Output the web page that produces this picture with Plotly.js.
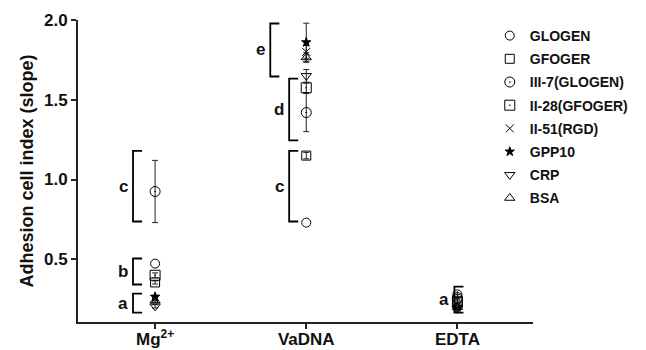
<!DOCTYPE html>
<html>
<head>
<meta charset="utf-8">
<script src="https://cdn.plot.ly/plotly-3.0.1.min.js"></script>
<style>html,body{margin:0;padding:0;background:#fff;}#chart{width:646px;height:350px;}</style>
</head>
<body>
<div id="chart"></div>
<script>
// ---- data ----
const categories = ["Mg<sup>2+</sup>", "VaDNA", "EDTA"];
const seriesNames = ["GLOGEN", "GFOGER", "III-7(GLOGEN)", "II-28(GFOGER)", "II-51(RGD)", "GPP10", "CRP", "BSA"];
const GLOGEN      = [0.473, 0.73, 0.28];
const GFOGER      = [0.355, 1.15, 0.24];
const III7_GLOGEN = [0.925, 1.42, 0.26];
const II28_GFOGER = [0.40, 1.575, 0.23];
const II51_RGD    = [0.25, 1.80, 0.21];
const GPP10       = [0.265, 1.86, 0.20];
const CRP         = [0.205, 1.65, 0.19];
const BSA         = [0.24, 1.765, 0.20];
const errGLOGEN   = [0, 0, 0.02];
const errGFOGER   = [0.01, 0.02, 0.02];
const errIII7     = [0.195, 0.12, 0.02];
const errII28     = [0.015, 0.03, 0.02];
const errII51     = [0.01, 0.04, 0.02];
const errGPP10    = [0.01, 0.12, 0.02];
const errCRP      = [0.01, 0.04, 0.02];
const errBSA      = [0.01, 0.03, 0.02];
// significance brackets: category index, low, high, label
const bracketCat   = [0, 0, 0, 1, 1, 1, 2];
const bracketLow   = [0.166, 0.342, 0.737, 0.737, 1.245, 1.646, 0.166];
const bracketHigh  = [0.285, 0.505, 1.18, 1.18, 1.633, 1.978, 0.329];
const bracketLabel = ["a", "b", "c", "c", "d", "e", "a"];

// ---- styling ----
const values = [GLOGEN, GFOGER, III7_GLOGEN, II28_GFOGER, II51_RGD, GPP10, CRP, BSA];
const errs = [errGLOGEN, errGFOGER, errIII7, errII28, errII51, errGPP10, errCRP, errBSA];
const symbols = ["circle-open", "square-open", "circle-open-dot", "square-open-dot", "x-thin-open", "star", "triangle-down-open", "triangle-up-open"];
const sizes = [9, 9, 10, 10, 8, 7, 9, 9];
const capWidths = [0, 3, 3, 3, 3, 3, 3, 3];
const bracketOffset = [-0.146, -0.146, -0.146, -0.113, -0.113, -0.238, -0.02]; // x of vertical relative to category
const tipLen = 0.06;
const FONT = "Arial, 'Liberation Sans', sans-serif";

const traces = values.map((v, i) => ({
  type: "scatter", mode: "markers",
  name: "<b>" + seriesNames[i] + "</b>", legendgroup: "g" + i,
  x: v.map((_, k) => k), y: v,
  marker: {symbol: symbols[i], size: sizes[i], color: "#000", line: {color: "#000", width: 1}},
  error_y: {type: "data", array: errs[i], visible: true, width: capWidths[i], thickness: 1, color: "#222"},
  cliponaxis: false
}));

const shapes = [];
const annotations = [];
bracketCat.forEach((c, i) => {
  const xv = c + bracketOffset[i];
  const xt = xv + tipLen;
  shapes.push({type: "path", xref: "x", yref: "y",
    path: `M ${xt} ${bracketLow[i]} L ${xv} ${bracketLow[i]} L ${xv} ${bracketHigh[i]} L ${xt} ${bracketHigh[i]}`,
    line: {color: "#000", width: 1.8}});
  annotations.push({xref: "x", yref: "y", x: xv, y: (bracketLow[i] + bracketHigh[i]) / 2,
    text: "<b>" + bracketLabel[i] + "</b>", showarrow: false, xanchor: "right", xshift: -3,
    font: {family: FONT, size: 17, color: "#111"}});
});

const layout = {
  width: 646, height: 350,
  margin: {l: 78, r: 113, t: 20, b: 28},
  paper_bgcolor: "#fff", plot_bgcolor: "#fff",
  showlegend: true,
  legend: {x: 0.905, y: 1.0, xanchor: "left", yanchor: "top", bgcolor: "rgba(0,0,0,0)",
    font: {family: FONT, size: 14, color: "#111"}, tracegroupgap: 2},
  xaxis: {range: [-0.51, 2.5], tickvals: [0, 1, 2], ticktext: categories.map(c => "<b>" + c + "</b>"),
    showgrid: false, zeroline: false, showline: true, linecolor: "#222", linewidth: 2,
    ticks: "outside", ticklen: 5, tickwidth: 2, tickcolor: "#222", ticklabelstandoff: -4,
    tickfont: {family: FONT, size: 17, color: "#111"}},
  yaxis: {range: [0.107, 2.0], tickvals: [0.5, 1.0, 1.5, 2.0], ticktext: ["0.5", "1.0", "1.5", "2.0"].map(t => "<b>" + t + "</b>"),
    showgrid: false, zeroline: false, showline: true, linecolor: "#222", linewidth: 2,
    ticks: "outside", ticklen: 5, tickwidth: 2, tickcolor: "#222",
    tickfont: {family: FONT, size: 17, color: "#111"},
    title: {text: "<b>Adhesion cell index (slope)</b>", font: {family: FONT, size: 18, color: "#111"}, standoff: 6}},
  shapes: shapes,
  annotations: annotations
};

Plotly.newPlot("chart", traces, layout, {displayModeBar: false, staticPlot: true});
</script>
</body>
</html>
